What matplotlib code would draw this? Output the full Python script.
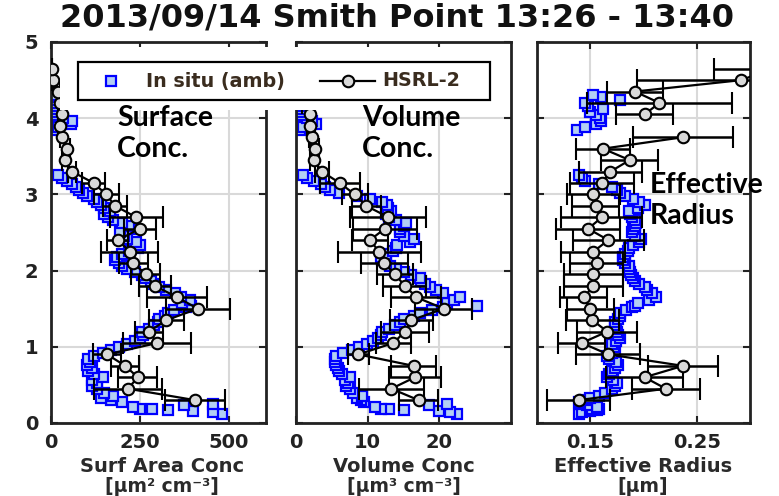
import matplotlib
matplotlib.use("Agg")
import matplotlib.pyplot as plt
import numpy as np
from matplotlib.lines import Line2D
from matplotlib.patches import Rectangle

# ---------------- data ----------------
title = "2013/09/14 Smith Point 13:26 - 13:40"

hsrl_alt = [0.30, 0.45, 0.60, 0.75, 0.90, 1.05, 1.20, 1.35, 1.50, 1.65,
            1.80, 1.95, 2.10, 2.25, 2.40, 2.55, 2.70, 2.85, 3.00, 3.15,
            3.30, 3.45, 3.60, 3.75, 3.90, 4.05, 4.20, 4.35, 4.50, 4.65]
hsrl_surf = [405, 217, 244, 209, 158, 299, 275, 325, 413, 355,
             292, 266, 232, 222, 188, 250, 240, 180, 155, 120,
             59, 40, 45, 31, 25, 31, 25, 20, 6, 3]
hsrl_surf_err = [85, 95, 55, 40, 40, 95, 40, 50, 90, 85,
                 45, 40, 40, 80, 30, 45, 75, 35, 35, 33,
                 12, 8, 9, 6, 5, 6, 5, 4, 2, 1]
hsrl_vol = [17.1, 13.3, 16.6, 16.4, 8.7, 13.6, 15.2, 16.1, 20.6, 16.8,
            15.2, 13.8, 12.3, 11.6, 10.3, 12.4, 12.9, 9.8, 8.2, 6.1,
            3.6, 2.5, 2.65, 2.2, 2.0, 2.0, 1.2, 1.0, 0.4, 0.3]
hsrl_vol_err = [2.7, 4.5, 3.6, 3.2, 1.5, 2.5, 3.4, 3.0, 4.0, 3.5,
                3.0, 2.5, 3.3, 5.8, 2.5, 4.5, 5.3, 2.0, 1.8, 2.8,
                1.0, 0.5, 0.5, 0.4, 0.4, 0.4, 0.3, 0.3, 0.1, 0.1]
hsrl_reff = [0.139, 0.221, 0.201, 0.237, 0.167, 0.142, 0.166, 0.152, 0.150, 0.144,
             0.153, 0.153, 0.156, 0.153, 0.167, 0.148, 0.161, 0.155, 0.153, 0.161,
             0.169, 0.187, 0.162, 0.237, np.nan, 0.201, 0.215, 0.192, 0.292, 0.320]
hsrl_reff_err = [0.030, 0.032, 0.036, 0.033, 0.030, 0.022, 0.028, 0.025, 0.022, 0.022,
                 0.028, 0.028, 0.025, 0.030, 0.033, 0.030, 0.038, 0.022, 0.025, 0.030,
                 0.030, 0.027, 0.025, 0.047, np.nan, 0.027, 0.068, 0.026, 0.098, 0.054]

insitu_alt = [0.12, 0.14, 0.16, 0.17, 0.18, 0.19, 0.21, 0.23, 0.25, 0.27,
              0.30, 0.33, 0.36, 0.40, 0.44, 0.48, 0.52, 0.56, 0.60, 0.64,
              0.68, 0.72, 0.76, 0.80, 0.84, 0.88, 0.92, 0.96, 1.00, 1.04,
              1.08, 1.12, 1.16, 1.20, 1.24, 1.28, 1.32, 1.36, 1.40, 1.44,
              1.48, 1.52, 1.54, 1.58, 1.62, 1.66, 1.70, 1.74, 1.78, 1.82,
              1.86, 1.90, 1.94, 1.98, 2.02, 2.06, 2.10, 2.14, 2.18, 2.22,
              2.26, 2.30, 2.34, 2.38, 2.42, 2.46, 2.50, 2.54, 2.58, 2.62,
              2.66, 2.70, 2.74, 2.78, 2.82, 2.86, 2.90, 2.94, 2.98, 3.02,
              3.06, 3.10, 3.14, 3.18, 3.22, 3.25, 3.84, 3.88, 3.92, 3.96,
              4.00, 4.04, 4.08, 4.12, 4.16, 4.20, 4.24, 4.28, 4.31]
insitu_surf = [480, 455, 400, 330, 285, 250, 230, 375, 455, 200,
               170, 140, 175, 150, 130, 115, 130, 115, 145, 120,
               105, 115, 100, 110, 105, 120, 145, 170, 190, 215,
               235, 250, 260, 255, 275, 290, 300, 305, 320, 330,
               345, 380, 395, 370, 390, 365, 350, 325, 305, 290,
               280, 265, 255, 235, 215, 200, 190, 180, 185, 200,
               220, 245, 250, 240, 215, 205, 195, 230, 220, 200,
               175, 160, 150, 165, 150, 140, 130, 120, 100, 90,
               80, 70, 60, 45, 30, 20, 8, 20, 55, 60,
               35, 15, 12, 10, 14, 12, 15, 12, 10]
insitu_vol = [22.5, 21.5, 20.0, 15.0, 13.0, 11.8, 11.0, 18.5, 21.0, 9.5,
              9.0, 8.5, 9.2, 8.0, 7.5, 7.0, 7.2, 6.8, 7.5, 6.4,
              6.0, 5.8, 5.6, 5.5, 5.4, 5.6, 6.6, 7.8, 8.8, 9.9,
              10.8, 11.5, 11.9, 12.0, 13.0, 13.8, 14.5, 15.0, 16.5, 17.3,
              19.0, 20.5, 25.2, 21.0, 22.0, 22.9, 20.5, 19.5, 18.7, 18.0,
              17.5, 17.3, 16.0, 15.0, 14.0, 13.1, 12.5, 12.0, 11.8, 12.5,
              13.5, 14.0, 14.1, 15.9, 16.4, 15.0, 14.5, 14.5, 15.0, 15.4,
              14.0, 13.0, 12.5, 13.2, 12.8, 12.7, 12.0, 10.3, 8.5, 6.0,
              4.8, 4.0, 3.5, 2.5, 1.5, 1.0, 0.6, 1.0, 2.8, 2.2,
              1.5, 0.8, 0.7, 0.8, 0.9, 0.7, 0.8, 0.7, 0.6]
insitu_reff = [0.139, 0.142, 0.150, 0.156, 0.152, 0.158, 0.156, 0.147, 0.140, 0.139,
               0.145, 0.150, 0.158, 0.164, 0.170, 0.173, 0.175, 0.171, 0.166, 0.168,
               0.170, 0.173, 0.176, 0.174, 0.168, 0.166, 0.170, 0.173, 0.172, 0.170,
               0.174, 0.178, 0.176, 0.175, 0.174, 0.173, 0.173, 0.176, 0.178, 0.178,
               0.184, 0.189, 0.192, 0.195, 0.205, 0.212, 0.208, 0.203, 0.201, 0.196,
               0.192, 0.190, 0.188, 0.187, 0.186, 0.186, 0.183, 0.181, 0.181, 0.183,
               0.185, 0.186, 0.190, 0.196, 0.198, 0.192, 0.189, 0.190, 0.192, 0.193,
               0.192, 0.189, 0.187, 0.186, 0.195, 0.201, 0.196, 0.190, 0.183, 0.178,
               0.175, 0.170, 0.158, 0.145, 0.142, 0.139, 0.138, 0.145, 0.155, 0.160,
               0.159, 0.155, 0.150, 0.162, 0.148, 0.145, 0.178, 0.160, 0.153]

panel_xlims = [(0, 605), (0, 30), (0.1, 0.3)]
panel_xticks = [[0, 250, 500], [0, 10, 20], [0.15, 0.25]]
panel_xticklabels = [["0", "250", "500"], ["0", "10", "20"], ["0.15", "0.25"]]
yticks = [0, 1, 2, 3, 4, 5]
xlabel_line1 = ["Surf Area Conc", "Volume Conc", "Effective Radius"]
xlabel_line2 = ["[µm² cm⁻³]", "[µm³ cm⁻³]", "[µm]"]
annotations = ["Surface\nConc.", "Volume\nConc.", "Effective\nRadius"]
legend_labels = ["In situ (amb)", "HSRL-2"]

# ---------------- style ----------------
W, H = 779, 496
plt.rcParams["font.family"] = ["DejaVu Sans"]
plt.rcParams["font.weight"] = "bold"

fig = plt.figure(figsize=(W / 100, H / 100), dpi=100)
fig.patch.set_facecolor("white")


def frac(x, y):
    return x / W, 1 - y / H


def rect(l, r, t, b):
    return [l / W, 1 - b / H, (r - l) / W, (b - t) / H]


ax_px = [(51, 266), (296, 511), (537, 750)]
top_px, bot_px = 42, 423

SQ_FACE = "#b3cff3"
SQ_EDGE = "#0000ff"
CIRC_FACE = "#d9d9d9"
SQ_SIZE = 7.8
SQ_EW = 1.6

insitu_sets = [insitu_surf, insitu_vol, insitu_reff]
hsrl_sets = [(hsrl_surf, hsrl_surf_err), (hsrl_vol, hsrl_vol_err), (hsrl_reff, hsrl_reff_err)]

axes = []
for i, (l, r) in enumerate(ax_px):
    ax = fig.add_axes(rect(l, r, top_px, bot_px))
    axes.append(ax)
    ax.plot(insitu_sets[i], insitu_alt, linestyle="none", marker="s", markersize=SQ_SIZE,
            markerfacecolor=SQ_FACE, markeredgecolor=SQ_EDGE, markeredgewidth=SQ_EW, zorder=2)
    vals, errs = hsrl_sets[i]
    ax.errorbar(vals, hsrl_alt, xerr=errs, fmt="-o", color="black", lw=1.6,
                elinewidth=1.8, capsize=8, capthick=2.0, markersize=8.3,
                markerfacecolor=CIRC_FACE, markeredgecolor="black", markeredgewidth=1.5,
                zorder=3)
    ax.set_xlim(*panel_xlims[i])
    ax.set_ylim(0, 5)
    ax.set_xticks(panel_xticks[i])
    ax.set_xticklabels(panel_xticklabels[i])
    ax.set_yticks(yticks)
    if i == 0:
        ax.set_yticklabels([str(v) for v in yticks])
    else:
        ax.set_yticklabels([])
    ax.tick_params(direction="in", top=True, right=True, length=5, width=1.5,
                   labelsize=14, colors="#222222", pad=7)
    ax.tick_params(axis="y", pad=9)
    ax.grid(True, color="#d9d9d9", lw=1.5)
    ax.set_axisbelow(True)
    for s in ax.spines.values():
        s.set_linewidth(2)
        s.set_color("#222222")

# white area behind legend
fig.add_artist(Rectangle(frac(60, 110), (507 - 60) / W, (110 - 47) / H,
                         transform=fig.transFigure, facecolor="white",
                         edgecolor="none", zorder=2))
# legend frame
fig.add_artist(Rectangle(frac(78, 100), (490 - 78) / W, (100 - 62) / H,
                         transform=fig.transFigure, facecolor="white",
                         edgecolor="black", lw=1.6, zorder=3))
leg_y = 81
fig.add_artist(Line2D([111 / W], [1 - leg_y / H], transform=fig.transFigure,
                      linestyle="none", marker="s", markersize=SQ_SIZE,
                      markerfacecolor=SQ_FACE, markeredgecolor=SQ_EDGE,
                      markeredgewidth=SQ_EW, zorder=4))
fig.add_artist(Line2D([320 / W, 375 / W], [1 - leg_y / H] * 2, transform=fig.transFigure,
                      color="black", lw=1.6, zorder=4))
fig.add_artist(Line2D([348 / W], [1 - leg_y / H], transform=fig.transFigure,
                      linestyle="none", marker="o", markersize=8.3,
                      markerfacecolor=CIRC_FACE, markeredgecolor="black",
                      markeredgewidth=1.5, zorder=5))
leg_font = dict(family=["DejaVu Sans"], weight="bold", size=13.8,
                color="#3a2c1e", va="center", zorder=5)
fig.text(146 / W, 1 - leg_y / H, legend_labels[0], **leg_font)
fig.text(382 / W, 1 - leg_y / H, legend_labels[1], **leg_font)

# title
fig.text(397.5 / W, 1 - 18 / H, title, ha="center", va="center",
         family=["DejaVu Sans"], weight="bold", size=23, color="#111111")

# x labels
label_cx = [162, 404, 643]
for cx, l1, l2 in zip(label_cx, xlabel_line1, xlabel_line2):
    fig.text(cx / W, 1 - 467 / H, l1, ha="center", va="center",
             family=["DejaVu Sans"], weight="bold", size=14, color="#2a2a2a")
    fig.text(cx / W, 1 - 487 / H, l2, ha="center", va="center",
             family=["DejaVu Sans"], weight="bold", size=13.5, color="#2a2a2a")

# annotations
ann_pos = [(117, 105), (362, 105), (650, 172)]
for (x, y), txt in zip(ann_pos, annotations):
    fig.text(x / W, 1 - y / H, txt, ha="left", va="top", linespacing=1.25,
             family=["Lato", "DejaVu Sans"], weight="bold", size=20.5, color="black",
             zorder=6)

fig.savefig("out.png", dpi=100)
